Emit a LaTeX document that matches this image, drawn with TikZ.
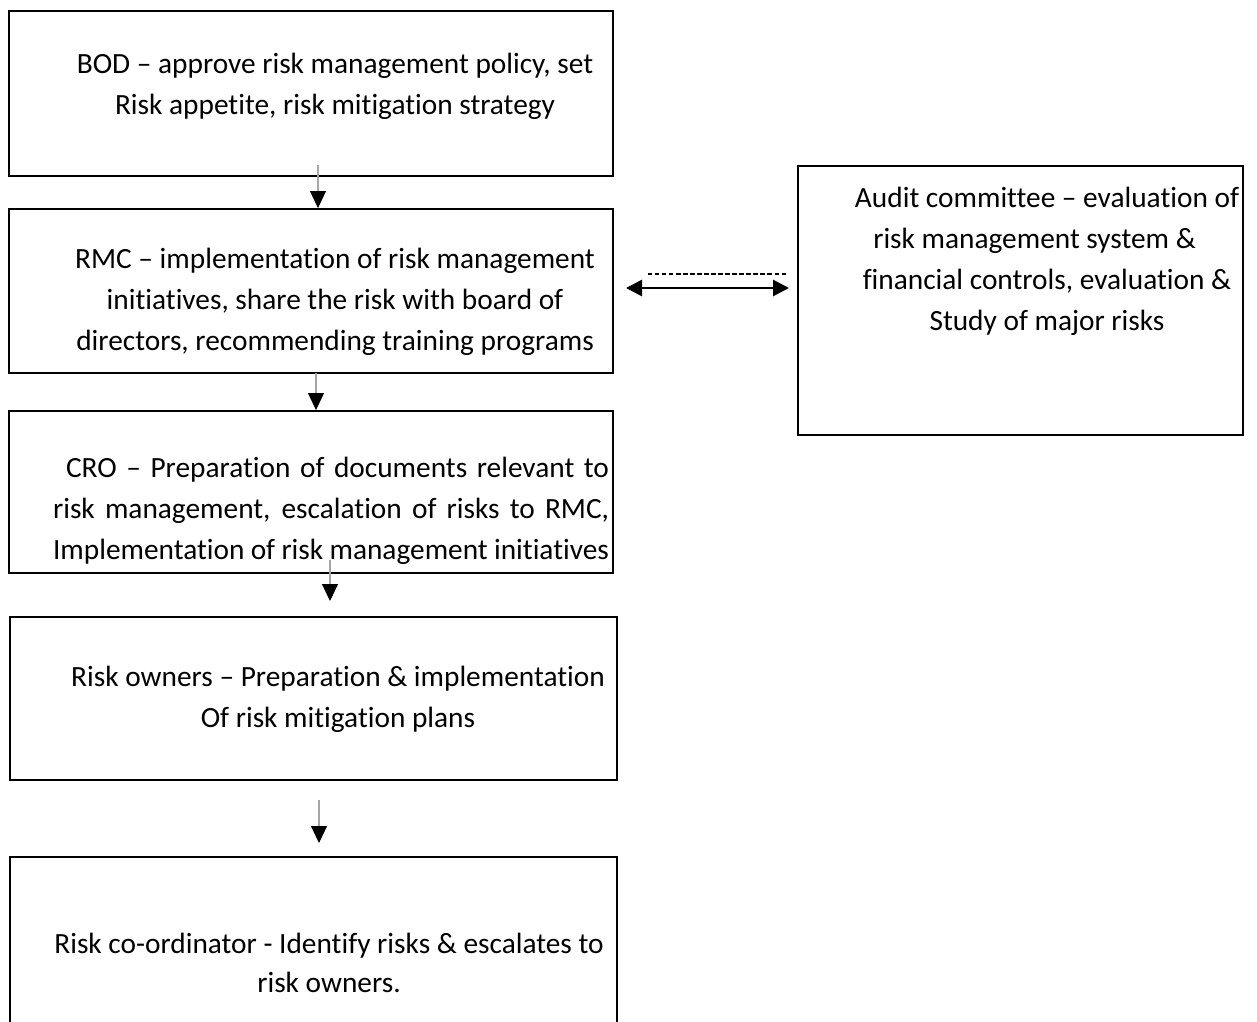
\documentclass[tikz,border=0pt]{standalone}
\usepackage{fontspec}
\setmainfont{Carlito}[Ligatures=NoCommon]
\usetikzlibrary{positioning,arrows.meta}
\tikzset{
  box/.style={rectangle, draw=black, line width=1.1pt, inner sep=0pt},
  boxtext/.style={align=center, font=\fontsize{16.7}{23.3}\selectfont, inner sep=0pt},
  downarrow/.style={draw=gray!70, line width=0.6pt, -{Triangle[width=0.32cm,length=0.34cm,color=black]}},
  bothways/.style={line width=1.6pt, {Triangle[width=0.32cm,length=0.32cm]}-{Triangle[width=0.32cm,length=0.32cm]}},
  dotline/.style={line width=0.9pt, dash pattern=on 2.5pt off 1.5pt}
}
\begin{document}
\begin{tikzpicture}[x=0.02cm,y=-0.02cm]
  \useasboundingbox (0,0) rectangle (1257,1021);
  % boxes
  \node[box, minimum width=12.08cm, minimum height=3.30cm] (bod) at (311,93.5) {};
  \node[box, minimum width=12.08cm, minimum height=3.28cm] (rmc) at (311,291) {};
  \node[box, minimum width=12.08cm, minimum height=3.24cm] (cro) at (311,492) {};
  \node[box, minimum width=12.14cm, minimum height=3.26cm] (owners) at (313.5,698.5) {};
  \node[box, minimum width=12.14cm, minimum height=3.40cm] (coord) at (313.5,942) {};
  \node[box, minimum width=8.90cm, minimum height=5.38cm] (audit) at (1020.5,300.5) {};
  % texts
  \node[boxtext] (bodtext) at (335,86) {BOD -- approve risk management policy, set\\Risk appetite, risk mitigation strategy};
  \node[boxtext] (rmctext) at (335,302) {RMC -- implementation of risk management\\initiatives, share the risk with board of\\directors, recommending training programs};
  \node[boxtext] (crotext) at (331,511) {\makebox[11.12cm][s]{\hspace{0.26cm}CRO -- Preparation of documents relevant to}\\
    \makebox[11.12cm][s]{risk management, escalation of risks to RMC,}\\
    \makebox[11.12cm][s]{Implementation of risk management initiatives}};
  \node[boxtext] (ownerstext) at (338,699) {Risk owners -- Preparation \& implementation\\Of risk mitigation plans};
  \node[boxtext, font=\fontsize{16.7}{22.3}\selectfont] (coordtext) at (329,963) {Risk co-ordinator - Identify risks \& escalates to\\risk owners.};
  \node[boxtext] (audittext) at (1047,261) {Audit committee -- evaluation of\\risk management system \&\rule{0.5cm}{0pt}\\financial controls, evaluation \&\\Study of major risks};
  % connectors
  \coordinate (s1) at (318,165);
  \coordinate (s2) at (316,373);
  \coordinate (s3) at (330,560);
  \coordinate (e3) at (330,601);
  \coordinate (s4) at (319,800);
  \coordinate (e4) at (319,843);
  \coordinate (d1) at (648,274);
  \coordinate (d2) at (788,274);
  \coordinate (b1) at (626,288);
  \coordinate (b2) at (789,288);
  \draw[downarrow] (s1) -- (s1 |- rmc.north);
  \draw[downarrow] (s2) -- (s2 |- cro.north);
  \draw[downarrow] (s3) -- (e3);
  \draw[downarrow] (s4) -- (e4);
  \draw[bothways] (b1) -- (b2);
  \draw[dotline] (d1) -- (d2);
\end{tikzpicture}
\end{document}
